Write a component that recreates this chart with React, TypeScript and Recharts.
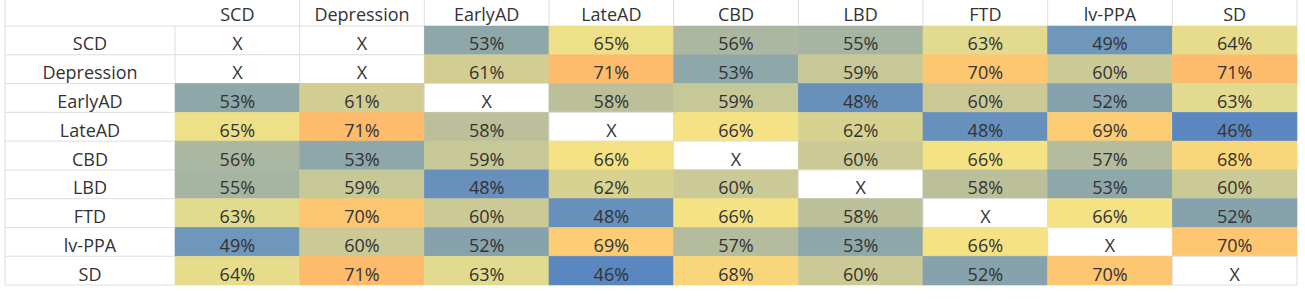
import React from 'react';
import { ScatterChart, Scatter, XAxis, YAxis } from 'recharts';

const categories = ['SCD', 'Depression', 'EarlyAD', 'LateAD', 'CBD', 'LBD', 'FTD', 'lv-PPA', 'SD'];

const rowSCD = [null, null, 53, 65, 56, 55, 63, 49, 64];
const rowDepression = [null, null, 61, 71, 53, 59, 70, 60, 71];
const rowEarlyAD = [53, 61, null, 58, 59, 48, 60, 52, 63];
const rowLateAD = [65, 71, 58, null, 66, 62, 48, 69, 46];
const rowCBD = [56, 53, 59, 66, null, 60, 66, 57, 68];
const rowLBD = [55, 59, 48, 62, 60, null, 58, 53, 60];
const rowFTD = [63, 70, 60, 48, 66, 58, null, 66, 52];
const rowLvPPA = [49, 60, 52, 69, 57, 53, 66, null, 70];
const rowSD = [64, 71, 63, 46, 68, 60, 52, 70, null];

const rows: (number | null)[][] = [rowSCD, rowDepression, rowEarlyAD, rowLateAD, rowCBD, rowLBD, rowFTD, rowLvPPA, rowSD];

const cells = categories.flatMap((r, i) =>
  rows[i].map((v, j) => ({ row: r, col: categories[j], value: v }))
);

const colorByValue: Record<number, string> = {
  46: '#5b87c0',
  48: '#6890bc',
  49: '#6f96bb',
  52: '#86a2ad',
  53: '#8ea8aa',
  55: '#a6b4a2',
  56: '#abb7a0',
  57: '#b4bc9d',
  58: '#bcc09a',
  59: '#c6c898',
  60: '#cbca96',
  61: '#d2ce93',
  62: '#d8d291',
  63: '#e2da8e',
  64: '#e7dc8b',
  65: '#eedf89',
  66: '#f5e284',
  68: '#fad67a',
  69: '#fccd74',
  70: '#fdc670',
  71: '#fdbb6b',
};

const W = 1305;
const H = 300;
const M = { top: 0, right: 8, bottom: 15, left: 5 };
const Y_W = 170;
const X_H = 26;
const plotW = W - M.left - M.right - Y_W;
const plotH = H - M.top - M.bottom - X_H;
const cw = plotW / categories.length;
const ch = plotH / categories.length;

const FONT = "'Open Sans', sans-serif";
const TEXT = '#333333';
const GRID = '#dedede';

function CellShape(props: any) {
  const { cx, cy, payload } = props;
  const v = payload.value as number | null;
  const x = cx - cw / 2;
  const y = cy - ch / 2;
  const fill = v == null ? '#ffffff' : colorByValue[v];
  return (
    <g>
      <rect x={x} y={y} width={cw} height={ch} fill={fill} stroke={v == null ? GRID : fill} strokeWidth={v == null ? 1 : 0.6} />
      <text x={cx} y={cy + 10} textAnchor="middle" fontFamily={FONT} fontSize={18} fill={TEXT}>
        {v == null ? 'X' : `${v}%`}
      </text>
    </g>
  );
}

function HeaderTick(props: any) {
  const { x, payload } = props;
  return (
    <g>
      <text x={x} y={M.top + 21} textAnchor="middle" fontFamily={FONT} fontSize={18} fill={TEXT}>
        {payload.value}
      </text>
      <line x1={x + cw / 2} x2={x + cw / 2} y1={M.top} y2={M.top + X_H} stroke={GRID} strokeWidth={1} />
    </g>
  );
}

function RowTick(props: any) {
  const { y, payload, index } = props;
  const left = M.left;
  const right = M.left + Y_W;
  return (
    <g>
      {index === 0 && (
        <>
          <line x1={left} x2={right} y1={y - ch / 2} y2={y - ch / 2} stroke={GRID} strokeWidth={1} />
          <line x1={left} x2={left} y1={M.top} y2={H - M.bottom} stroke={GRID} strokeWidth={1} />
        </>
      )}
      <line x1={left} x2={right} y1={y + ch / 2} y2={y + ch / 2} stroke={GRID} strokeWidth={1} />
      <text x={left + Y_W / 2} y={y + 10} textAnchor="middle" fontFamily={FONT} fontSize={18} fill={TEXT}>
        {payload.value}
      </text>
    </g>
  );
}

export default function App() {
  return (
    <div style={{ position: 'absolute', left: 0, top: 0, width: W, height: H, background: '#fff' }}>
      <ScatterChart width={W} height={H} margin={M}>
        <XAxis
          type="category"
          dataKey="col"
          orientation="top"
          height={X_H}
          axisLine={false}
          tickLine={false}
          interval={0}
          allowDuplicatedCategory={false}
          tick={<HeaderTick />}
        />
        <YAxis
          type="category"
          dataKey="row"
          width={Y_W}
          axisLine={false}
          tickLine={false}
          interval={0}
          reversed
          allowDuplicatedCategory={false}
          tick={<RowTick />}
        />
        <Scatter data={cells} shape={<CellShape />} isAnimationActive={false} />
      </ScatterChart>
    </div>
  );
}
